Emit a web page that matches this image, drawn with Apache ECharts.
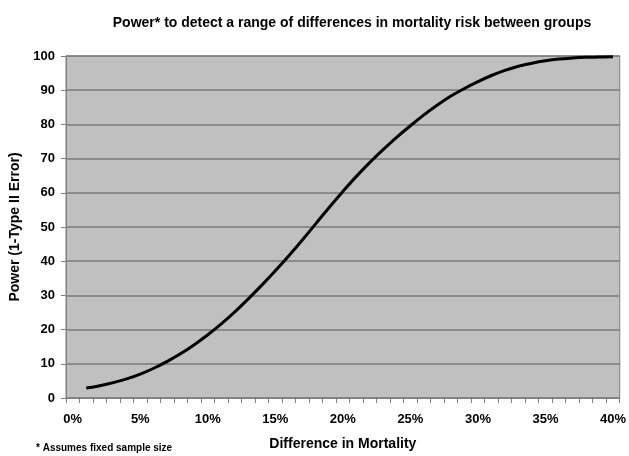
<!DOCTYPE html>
<html>
<head>
<meta charset="utf-8">
<script src="https://cdn.jsdelivr.net/npm/echarts@6/dist/echarts.min.js"></script>
<style>html,body{margin:0;padding:0;background:#fff}#c{width:629px;height:456px}</style>
</head>
<body>
<div id="c"></div>
<script>
var categories = [];
for (var i = 0; i <= 40; i++) categories.push(i + '%');
var power = [null, 2.9, 3.6, 4.5, 5.6, 7.0, 8.7, 10.7, 13.0, 15.6, 18.5,
  21.7, 25.2, 29.0, 33.0, 37.2, 41.6, 46.2, 51.0, 55.8, 60.4,
  64.8, 68.9, 72.7, 76.3, 79.6, 82.8, 85.7, 88.3, 90.5, 92.5,
  94.3, 95.8, 97.0, 97.9, 98.6, 99.1, 99.4, 99.6, 99.7, 99.8];
var yTicks = {min: 0, max: 100, interval: 10};
var titleText = 'Power* to detect a range of differences in mortality risk between groups';
var footnote = '* Assumes fixed sample size';
var xName = 'Difference in Mortality';
var yName = 'Power (1-Type II Error)';

var FONT = '"Liberation Sans", Arial, sans-serif';
var chart = echarts.init(document.getElementById('c'), null, {renderer: 'canvas'});
chart.setOption({
  animation: false,
  backgroundColor: '#ffffff',
  title: [
    {text: titleText, left: 347, top: 11, textAlign: 'center',
     textStyle: {fontFamily: FONT, fontSize: 14, fontWeight: 'bold', color: '#000'}},
    {text: footnote, left: 31, top: 438,
     textStyle: {fontFamily: FONT, fontSize: 10, fontWeight: 'bold', color: '#000'}}
  ],
  grid: {left: 66, right: 9, top: 56, bottom: 51, show: true,
         backgroundColor: '#c0c0c0', borderColor: '#808080', borderWidth: 1, containLabel: false},
  xAxis: {
    type: 'category', data: categories, boundaryGap: true,
    name: xName, nameLocation: 'middle', nameGap: 39,
    nameTextStyle: {fontFamily: FONT, fontSize: 14, fontWeight: 'bold', color: '#000'},
    axisLine: {show: true, lineStyle: {color: '#808080', width: 1}},
    axisTick: {show: true, interval: 0, length: 5, lineStyle: {color: '#808080'}},
    axisLabel: {interval: 4, fontFamily: FONT, fontSize: 13, fontWeight: 'bold', color: '#000', margin: 15},
    splitLine: {show: false}
  },
  yAxis: {
    type: 'value', min: yTicks.min, max: yTicks.max, interval: yTicks.interval,
    name: yName, nameLocation: 'middle', nameGap: 43, nameRotate: 90,
    nameTextStyle: {fontFamily: FONT, fontSize: 14, fontWeight: 'bold', color: '#000'},
    axisLine: {show: true, lineStyle: {color: '#808080', width: 1}},
    axisTick: {show: true, length: 5, lineStyle: {color: '#808080'}},
    axisLabel: {fontFamily: FONT, fontSize: 13, fontWeight: 'bold', color: '#000', margin: 11},
    splitLine: {show: true, lineStyle: {color: '#7a7a7a', width: 1.5}}
  },
  series: [{
    type: 'line', data: power, smooth: 0.4, showSymbol: false, connectNulls: false,
    lineStyle: {color: '#000', width: 3}
  }]
});
</script>
</body>
</html>
